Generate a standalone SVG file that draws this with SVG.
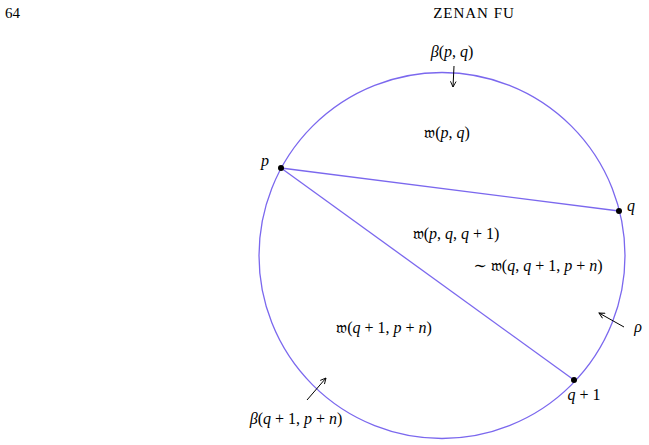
<svg xmlns="http://www.w3.org/2000/svg" width="649" height="445" viewBox="0 0 649 445">
<style>
text{font-family:"Liberation Serif","DejaVu Serif",serif;font-size:16px;fill:#000}
.i{font-style:italic}
.hd{font-size:15px}
.edge{stroke:#7b68ee;stroke-width:1.3;fill:none}
.arr{stroke:#000;stroke-width:1;fill:none}
</style>
<defs>
<marker id="ah" viewBox="0 0 10 10" refX="9" refY="5" markerWidth="7" markerHeight="7" orient="auto">
<path d="M1,1 L9,5 L1,9" fill="none" stroke="#000" stroke-width="1.3"/>
</marker>
</defs>
<rect width="649" height="445" fill="#fff"/>
<g id="header">
<text x="5" y="18" class="hd">64</text>
<text x="474" y="18" class="hd" text-anchor="middle" letter-spacing="1">ZENAN FU</text>
</g>
<g id="connectors">
<circle class="edge" cx="442" cy="255.5" r="183"/>
<line class="edge" x1="281" y1="168" x2="619" y2="211"/>
<line class="edge" x1="281" y1="168" x2="574" y2="380"/>
<line class="arr" x1="454" y1="66" x2="453" y2="87" marker-end="url(#ah)"/>
<line class="arr" x1="307" y1="400" x2="326" y2="378" marker-end="url(#ah)"/>
<line class="arr" x1="624" y1="327" x2="599" y2="313" marker-end="url(#ah)"/>
</g>
<g id="node-p"><circle cx="281" cy="168" r="3"/><text x="265" y="166" class="i" text-anchor="middle">p</text></g>
<g id="node-q"><circle cx="619" cy="211" r="3"/><text x="631" y="211" class="i" text-anchor="middle">q</text></g>
<g id="node-q1"><circle cx="574" cy="380" r="3"/><text x="584" y="400" text-anchor="middle"><tspan class="i">q</tspan> + 1</text></g>
<g id="label-rho"><text x="638" y="332" class="i" text-anchor="middle">ρ</text></g>
<g id="label-beta-pq"><text x="452" y="57" text-anchor="middle"><tspan class="i">β</tspan>(<tspan class="i">p</tspan>, <tspan class="i">q</tspan>)</text></g>
<g id="label-beta-q1pn"><text x="296" y="424" text-anchor="middle"><tspan class="i">β</tspan>(<tspan class="i">q</tspan> + 1, <tspan class="i">p</tspan> + <tspan class="i">n</tspan>)</text></g>
<g id="label-w-pq"><text x="447" y="138" text-anchor="middle">𝔴(<tspan class="i">p</tspan>, <tspan class="i">q</tspan>)</text></g>
<g id="label-w-pqq1"><text x="456" y="239" text-anchor="middle">𝔴(<tspan class="i">p</tspan>, <tspan class="i">q</tspan>, <tspan class="i">q</tspan> + 1)</text></g>
<g id="label-w-qq1pn"><text x="538" y="271" text-anchor="middle">∼ 𝔴(<tspan class="i">q</tspan>, <tspan class="i">q</tspan> + 1, <tspan class="i">p</tspan> + <tspan class="i">n</tspan>)</text></g>
<g id="label-w-q1pn"><text x="384" y="333" text-anchor="middle">𝔴(<tspan class="i">q</tspan> + 1, <tspan class="i">p</tspan> + <tspan class="i">n</tspan>)</text></g>
</svg>
